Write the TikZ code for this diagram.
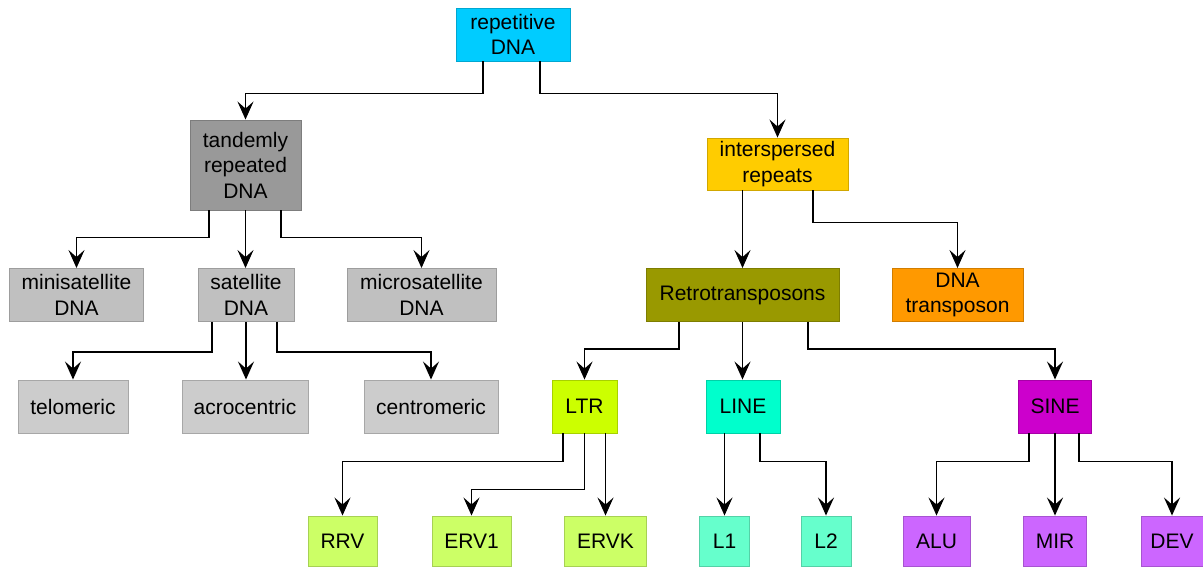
\documentclass[tikz,border=0pt]{standalone}
\usepackage{fontspec}
\setmainfont{Liberation Sans}
\usepackage{tikz}
\usetikzlibrary{arrows,arrows.meta,positioning}
\definecolor{repcyan}{HTML}{00CCFF}
\definecolor{tandgray}{HTML}{999999}
\definecolor{satgray}{HTML}{C0C0C0}
\definecolor{cengray}{HTML}{CCCCCC}
\definecolor{intyellow}{HTML}{FFCC00}
\definecolor{retroolive}{HTML}{999900}
\definecolor{dnaorange}{HTML}{FF9900}
\definecolor{ltrlime}{HTML}{CCFF00}
\definecolor{linecyan}{HTML}{00FFCC}
\definecolor{sinemag}{HTML}{CC00CC}
\definecolor{ervgreen}{HTML}{CCFF66}
\definecolor{lmint}{HTML}{66FFCC}
\definecolor{sviolet}{HTML}{CC66FF}

\begin{document}
\begin{tikzpicture}[x=1pt,y=1pt,font=\fontsize{21}{25.5}\selectfont,
        box/.style={shape=rectangle,draw=#1!82!black,fill=#1,line width=0.9pt,align=center,inner sep=0pt,minimum height=53pt},
        arr/.style={-{Stealth[length=18pt,width=16pt,inset=7pt]},line width=1.7pt}]
        \useasboundingbox (0,0) rectangle (1203,-568);
        \node (rep) at (513,-34.5) [box=repcyan,minimum width=114pt] {repetitive\\DNA};
        \node (tand) at (245.5,-165) [box=tandgray,minimum width=111pt,minimum height=90pt] {tandemly\\repeated\\DNA};
        \node (mini) at (76.5,-295) [box=satgray,minimum width=134pt] {minisatellite\\DNA};
        \node (sat) at (246,-295) [box=satgray,minimum width=96pt] {satellite\\DNA};
        \node (micro) at (421.5,-295) [box=satgray,minimum width=149pt] {microsatellite\\DNA};
        \node (telo) at (73,-406.5) [box=cengray,minimum width=110pt] {telomeric};
        \node (acro) at (245,-406.5) [box=cengray,minimum width=126pt] {acrocentric};
        \node (centro) at (431,-406.5) [box=cengray,minimum width=134pt] {centromeric};
        \node (inter) at (777.5,-164) [box=intyellow,minimum width=141pt,minimum height=52pt] {interspersed\\repeats};
        \node (retro) at (742.5,-295) [box=retroolive,minimum width=193pt] {Retrotransposons};
        \node (dnat) at (957.5,-295) [box=dnaorange,minimum width=131pt] {DNA\\transposon};
        \node (ltr) at (584.5,-406.5) [box=ltrlime,minimum width=65pt] {LTR};
        \node (line) at (743,-406.5) [box=linecyan,minimum width=74pt] {LINE};
        \node (sine) at (1055,-406.5) [box=sinemag,minimum width=73pt] {SINE};
        \node (rrv) at (342.5,-541) [box=ervgreen,minimum width=69pt,minimum height=50pt] {RRV};
        \node (erv1) at (471.5,-541) [box=ervgreen,minimum width=79pt,minimum height=50pt] {ERV1};
        \node (ervk) at (605.5,-541) [box=ervgreen,minimum width=82pt,minimum height=50pt] {ERVK};
        \node (l1) at (724.5,-541) [box=lmint,minimum width=50pt,minimum height=50pt] {L1};
        \node (l2) at (826,-541) [box=lmint,minimum width=50pt,minimum height=50pt] {L2};
        \node (alu) at (936.5,-541) [box=sviolet,minimum width=67pt,minimum height=50pt] {ALU};
        \node (mir) at (1055,-541) [box=sviolet,minimum width=63pt,minimum height=50pt] {MIR};
        \node (dev) at (1172,-541) [box=sviolet,minimum width=62pt,minimum height=50pt] {DEV};

        \draw[arr] ([xshift=-30]rep.south) -- ++(0,-32) -| (tand.north);
        \draw[arr] ([xshift=27]rep.south) -- ++(0,-32) -| (inter.north);
        \draw[arr] ([xshift=-36.5]tand.south) -- ++(0,-27) -| (mini.north);
        \draw[arr] (tand.south) -- (tand.south |- sat.north);
        \draw[arr] ([xshift=35.5]tand.south) -- ++(0,-27) -| (micro.north);
        \draw[arr] ([xshift=-34]sat.south) -- ++(0,-30) -| (telo.north);
        \draw[arr] (sat.south) -- (sat.south |- acro.north);
        \draw[arr] ([xshift=31]sat.south) -- ++(0,-30) -| (centro.north);
        \draw[arr] (inter.south -| retro.north) -- (retro.north);
        \draw[arr] ([xshift=35.5]inter.south) -- ++(0,-32) -| (dnat.north);
        \draw[arr] ([xshift=-63.5]retro.south) -- ++(0,-27) -| (ltr.north);
        \draw[arr] (retro.south) -- (retro.south |- line.north);
        \draw[arr] ([xshift=65.5]retro.south) -- ++(0,-27) -| (sine.north);
        \draw[arr] ([xshift=-21.5]ltr.south) -- ++(0,-28) -| (rrv.north);
        \draw[arr] (ltr.south) -- ++(0,-56) -| (erv1.north);
        \draw[arr] (ervk.north |- ltr.south) -- (ervk.north);
        \draw[arr] (l1.north |- line.south) -- (l1.north);
        \draw[arr] ([xshift=17]line.south) -- ++(0,-28) -| (l2.north);
        \draw[arr] ([xshift=-26]sine.south) -- ++(0,-28) -| (alu.north);
        \draw[arr] (sine.south) -- (sine.south |- mir.north);
        \draw[arr] ([xshift=24]sine.south) -- ++(0,-28) -| (dev.north);
    \end{tikzpicture}
\end{document}
